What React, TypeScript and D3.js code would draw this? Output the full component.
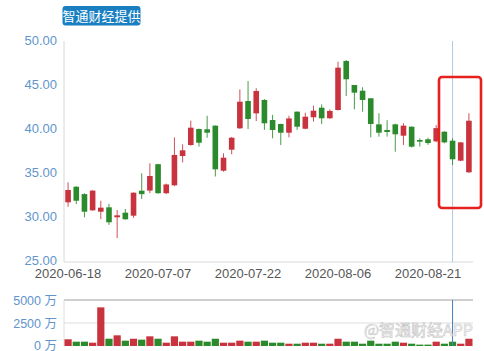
import * as d3 from "d3";

const dates = [
  "2020-06-18", "2020-06-19", "2020-06-22", "2020-06-23", "2020-06-24", "2020-06-26", "2020-06-29", "2020-06-30",
  "2020-07-02", "2020-07-03", "2020-07-06", "2020-07-07", "2020-07-08", "2020-07-09", "2020-07-10", "2020-07-13",
  "2020-07-14", "2020-07-15", "2020-07-16", "2020-07-17", "2020-07-20", "2020-07-21", "2020-07-22", "2020-07-23",
  "2020-07-24", "2020-07-27", "2020-07-28", "2020-07-29", "2020-07-30", "2020-07-31", "2020-08-03", "2020-08-04",
  "2020-08-05", "2020-08-06", "2020-08-07", "2020-08-10", "2020-08-11", "2020-08-12", "2020-08-13", "2020-08-14",
  "2020-08-17", "2020-08-18", "2020-08-19", "2020-08-20", "2020-08-21", "2020-08-24", "2020-08-25", "2020-08-26",
  "2020-08-27", "2020-08-28",
];

const open = [
  31.67, 33.44, 32.6, 30.76, 30.6, 31.1, 29.97, 30.49, 30.15, 32.99,
  33.0, 36.0, 32.7, 33.6, 36.93, 38.18, 40.0, 39.97, 40.38, 35.26,
  37.65, 40.08, 43.18, 41.78, 43.3, 41.02, 40.57, 39.58, 41.97, 40.03,
  41.33, 42.42, 41.22, 42.16, 47.73, 45.0, 44.35, 43.49, 40.53, 39.89,
  40.53, 39.24, 40.26, 38.75, 38.83, 38.6, 39.69, 38.67, 36.4, 35.08,
];
const close = [
  33.07, 31.85, 30.6, 33.0, 31.06, 29.4, 30.19, 29.74, 32.76, 32.6,
  34.66, 32.7, 33.7, 37.05, 37.58, 40.15, 38.44, 39.58, 35.42, 36.74,
  39.01, 43.1, 41.14, 44.32, 40.65, 39.89, 39.58, 41.2, 40.26, 41.4,
  42.08, 41.22, 42.05, 46.97, 45.65, 44.13, 43.3, 40.57, 39.58, 39.66,
  39.4, 40.38, 37.99, 38.56, 38.4, 40.1, 38.48, 36.56, 38.48, 40.94,
];
const high = [
  33.94, 33.5, 32.7, 33.05, 31.85, 31.5, 30.8, 30.9, 32.8, 34.97,
  36.1, 36.05, 33.8, 39.05, 38.26, 40.95, 40.05, 41.5, 40.4, 37.24,
  39.1, 44.5, 45.45, 44.63, 43.4, 41.6, 40.6, 41.5, 42.0, 41.85,
  42.65, 42.8, 42.24, 47.65, 47.84, 45.0, 44.74, 43.5, 41.78, 41.0,
  40.6, 40.65, 40.3, 38.94, 39.0, 40.45, 39.75, 38.94, 38.5, 41.78,
];
const low = [
  31.17, 31.48, 29.96, 30.7, 29.75, 29.1, 27.6, 29.7, 29.9, 32.05,
  32.7, 32.65, 32.6, 33.5, 36.2, 38.1, 38.0, 39.0, 34.6, 35.15,
  37.13, 40.0, 40.0, 40.9, 39.9, 38.94, 38.18, 39.05, 39.9, 39.97,
  40.83, 40.57, 41.15, 42.1, 43.75, 42.24, 41.97, 39.05, 39.13, 39.13,
  37.42, 38.18, 37.9, 38.0, 38.2, 38.5, 38.37, 35.91, 36.35, 35.0,
];
// volume, in 万
const volume = [
  730, 470, 470, 360, 4200, 790, 1160, 580, 790, 690,
  1050, 790, 360, 1050, 470, 470, 580, 470, 790, 360,
  360, 580, 470, 470, 580, 360, 360, 250, 250, 360,
  360, 250, 250, 790, 470, 470, 250, 580, 250, 250,
  470, 360, 250, 150, 150, 470, 250, 470, 250, 790,
];

const priceTicks = [25, 30, 35, 40, 45, 50];
const volTicks = [0, 2500, 5000];
const labelDates = ["2020-06-18", "2020-07-07", "2020-07-22", "2020-08-06", "2020-08-21"];
const crossDate = "2020-08-26";

const RED = "#c8333d";
const GREEN = "#2b8a2b";
const LABEL_BLUE = "#5f95cc";
const FONT = "'Liberation Sans', Arial, sans-serif";
const CJK = "'Noto Sans CJK SC', sans-serif";
const MIXED = "'Liberation Sans', Arial, 'Noto Sans CJK SC', sans-serif";

export default function App() {
  const left = 64, right = 473;
  const x = d3.scaleBand<string>().domain(dates).range([left, right]).paddingInner(0);
  const y = d3.scaleLinear().domain([25, 50]).range([261, 41]);
  const yv = d3.scaleLinear().domain([0, 5000]).range([346, 300]);
  const bw = x.bandwidth();
  const cx = (d: string) => (x(d) ?? 0) + bw / 2;
  const bodyW = 5.6;
  const volW = 7.2;

  const candles = dates.map((d, i) => ({
    d, o: open[i], c: close[i], h: high[i], l: low[i], v: volume[i],
    up: close[i] >= open[i],
  }));

  const xc = cx(crossDate);

  return (
    <div style={{ position: "fixed", left: 0, top: 0, width: 484, height: 351, background: "#fff" }}>
      <svg width={484} height={351} style={{ display: "block" }}>
        {/* badge */}
        <rect x={62.5} y={6} width={78} height={19.5} rx={3} fill="#1a7fc1" />
        <text x={101.5} y={20.5} textAnchor="middle" fontSize={13} fill="#fff" fontFamily={CJK}>智通财经提供</text>

        {/* price axes */}
        <line x1={left} x2={left} y1={y(50)} y2={262} stroke="#d8d8d8" />
        <line x1={left} x2={right} y1={262} y2={262} stroke="#d8d8d8" />
        {priceTicks.map(t => (
          <text key={t} x={57} y={y(t) + 4} textAnchor="end" fontSize={13} fill={LABEL_BLUE} fontFamily={FONT}>
            {t.toFixed(2)}
          </text>
        ))}
        {labelDates.map(d => (
          <text key={d} x={cx(d)} y={278} textAnchor="middle" fontSize={13} fill="#555" fontFamily={FONT}>{d}</text>
        ))}

        {/* crosshair */}
        <line x1={xc} x2={xc} y1={y(50)} y2={262} stroke="#b3cbe0" strokeWidth={1} />

        {/* candles */}
        {candles.map(k => {
          const col = k.up ? RED : GREEN;
          const top = y(Math.max(k.o, k.c));
          const bot = y(Math.min(k.o, k.c));
          return (
            <g key={k.d}>
              <line x1={cx(k.d)} x2={cx(k.d)} y1={y(k.h)} y2={y(k.l)} stroke={col} strokeWidth={1} opacity={0.85} />
              <rect x={cx(k.d) - bodyW / 2} y={top} width={bodyW} height={Math.max(1.2, bot - top)} fill={col} />
            </g>
          );
        })}

        {/* highlight box */}
        <rect x={439} y={77} width={42} height={131} rx={3} fill="none" stroke="#e5201e" strokeWidth={2.6} />

        {/* volume grid */}
        <line x1={left} x2={right} y1={yv(5000)} y2={yv(5000)} stroke="#cfcfcf" strokeWidth={2} />
        <line x1={left} x2={right} y1={yv(2500)} y2={yv(2500)} stroke="#dedede" />
        <line x1={left} x2={left} y1={yv(5000)} y2={yv(0)} stroke="#dedede" />
        {volTicks.map(t => (
          <text key={t} x={57} y={yv(t) + (t === 0 ? 3.5 : 4.5)} textAnchor="end" fontSize={12.5} fill={LABEL_BLUE} fontFamily={MIXED}>
            {t} 万
          </text>
        ))}

        {/* volume bars */}
        {candles.map(k => (
          <rect key={k.d} x={cx(k.d) - volW / 2} y={yv(k.v)} width={volW} height={yv(0) - yv(k.v)} fill={k.up ? RED : GREEN} />
        ))}
        <line x1={xc} x2={xc} y1={yv(5000)} y2={yv(0)} stroke="#3f7fbf" strokeWidth={1} />

        {/* watermark */}
        <text x={473} y={336} textAnchor="end" fontSize={16} fontFamily={CJK} fill="rgba(255,255,255,0.55)" stroke="#c4c4c4" strokeWidth={0.6}>
          @智通财经APP
        </text>
      </svg>
    </div>
  );
}
